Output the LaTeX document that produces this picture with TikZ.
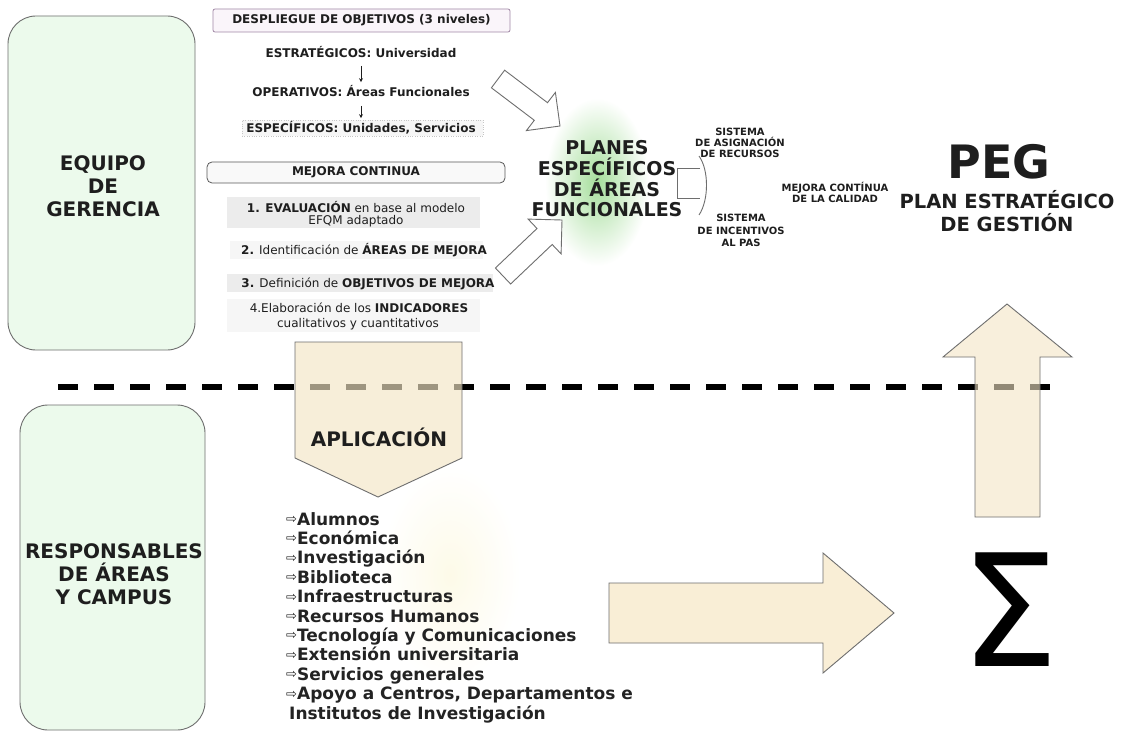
\documentclass[tikz,border=0pt]{standalone}
\usepackage{fontspec}
\setmainfont{DejaVu Sans}
\usetikzlibrary{arrows.meta}
\definecolor{gfill}{RGB}{236,250,236}
\definecolor{gline}{RGB}{110,110,110}
\definecolor{beige}{RGB}{244,229,198}
\definecolor{beigeR}{RGB}{249,238,214}
\definecolor{txt}{RGB}{30,30,30}
\definecolor{lav}{RGB}{250,245,250}
\definecolor{lavline}{RGB}{160,135,165}
\definecolor{glowgreen}{RGB}{165,222,155}
\definecolor{glowyel}{RGB}{253,250,232}
\definecolor{bgA}{RGB}{236,236,236}
\definecolor{bgB}{RGB}{246,246,246}
\newcommand\fsz[2]{\fontsize{#1}{#2}\selectfont}
\newcommand\itarr{{\mdseries\fontsize{13}{14}\selectfont\raisebox{1.5pt}{⇨}}}
\begin{document}
\begin{tikzpicture}[x=1pt,y=-1pt,
  every node/.style={text=txt, inner sep=0pt},
  greenbox/.style={draw=gline, fill=gfill, line width=0.9pt, rounded corners=28pt},
  blockarrow/.style={draw=gline, line width=0.9pt, line join=miter},
  bgbox/.style={draw=none},
  small/.style={font=\fsz{12}{13}},
  smallb/.style={font=\fsz{12}{13}\bfseries},
  tiny/.style={font=\fsz{10}{11}\bfseries, align=center},
  listitem/.style={anchor=base west, font=\fsz{17}{19.4}\bfseries, text={rgb,255:red,35;green,35;blue,35}},
  downarr/.style={-{Stealth[length=4pt,width=4pt]}, line width=0.8pt, draw=txt}]
\useasboundingbox (0,0) rectangle (1132,738);
\fill[white] (0,0) rectangle (1132,738);

% soft glows
\shade[inner color=glowgreen, outer color=white] (597,182) ellipse [x radius=52, y radius=84];
\shade[inner color=glowyel, outer color=white] (450,575) ellipse [x radius=70, y radius=110];

% left role boxes
\node[greenbox, minimum width=187pt, minimum height=334pt] (equipo) at (101.5,183) {};
\node[font=\fsz{20}{23}\bfseries, align=center] (equipoT) at (103,186) {EQUIPO\\DE\\GERENCIA};
\node[greenbox, minimum width=185pt, minimum height=325pt] (resp) at (112.5,567.5) {};
\node[font=\fsz{20}{23}\bfseries, align=center] (respT) at (114,574) {RESPONSABLES\\DE ÁREAS\\Y CAMPUS};

% dashed separator
\coordinate (dL) at (58,387);
\coordinate (dR) at (1063,387);
\draw[line width=6pt, dash pattern=on 20pt off 16pt] (dL) -- (dR);

% objectives column
\node[draw=lavline, fill=lav, rounded corners=2pt, line width=0.8pt,
      minimum width=297pt, minimum height=23pt, smallb] (desp) at (361.5,20.5) {DESPLIEGUE DE OBJETIVOS (3 niveles)};
\node[smallb, anchor=base] (estr) at (361,57.5) {ESTRATÉGICOS: Universidad};
\node[smallb, anchor=base] (oper) at (361,96.5) {OPERATIVOS: Áreas Funcionales};
\node[draw=gray!45, dotted, fill=bgB, minimum width=241pt, minimum height=16pt] (espbox) at (362.5,128) {};
\node[smallb, anchor=base] (esp) at (361,132.5) {ESPECÍFICOS: Unidades, Servicios};
\draw[downarr, shorten <=8pt, shorten >=3pt] (estr.south) -- (oper.north);
\draw[downarr, shorten <=9pt, shorten >=3pt] (oper.south) -- (esp.north);

% continuous improvement column
\node[draw=gray!70!black, fill=gray!5, rounded corners=5pt, line width=0.8pt,
      minimum width=298pt, minimum height=21pt, smallb] (mej) at (356,172.5) {MEJORA CONTINUA};
\node[bgbox, fill=bgA, minimum width=253pt, minimum height=31pt] (evalbox) at (353.5,212.5) {};
\node[small, anchor=base] (eval1) at (356,212.5) {\textbf{1. EVALUACIÓN} en base al modelo};
\node[small, anchor=base] (eval2) at (356,225) {EFQM adaptado};
\node[bgbox, fill=bgB, minimum width=253pt, minimum height=18pt] (identbox) at (356,250) {};
\node[small, anchor=base] (ident) at (364,254.5) {\textbf{2.} Identificación de \textbf{ÁREAS DE MEJORA}};
\node[bgbox, fill=bgA, minimum width=266pt, minimum height=18pt] (defbox) at (360,283) {};
\node[small, anchor=base] (def) at (368,287.5) {\textbf{3.} Definición de \textbf{OBJETIVOS DE MEJORA}};
\node[bgbox, fill=bgB, minimum width=253pt, minimum height=33pt] (elabbox) at (353.5,315.5) {};
\node[small, anchor=base] (elab1) at (359,312.5) {4.Elaboración de los \textbf{INDICADORES}};
\node[small, anchor=base] (elab2) at (358,327.5) {cualitativos y cuantitativos};

% white block arrows into the plans
\filldraw[blockarrow, fill=white] (504.6,70.2) -- (547.5,102.7) -- (555.4,92.4) -- (560,126)
  -- (526.4,130.6) -- (534.3,120.3) -- (491.4,87.8) -- cycle;
\filldraw[blockarrow, fill=white] (495.4,268.0) -- (537.0,228.5) -- (528.1,219.1) -- (562,220)
  -- (561.1,253.9) -- (552.2,244.5) -- (510.6,284.0) -- cycle;

% plans
\node[font=\fsz{19}{20.7}\bfseries, align=center] (planes) at (607,179) {PLANES\\ESPECÍFICOS\\DE ÁREAS\\FUNCIONALES};
\draw[gline, line width=0.9pt] (700,168) -- (677,168) -- (677,198) -- (700,198);
\draw[gline, line width=0.9pt] (699,156) .. controls (709,170) and (709,200) .. (699,215);
\node[tiny] (sar) at (740,143) {SISTEMA\\DE ASIGNACIÓN\\DE RECURSOS};
\node[tiny, font=\fsz{10}{12.5}\bfseries] (sip) at (741,230.5) {SISTEMA\\DE INCENTIVOS\\AL PAS};
\node[tiny] (mcal) at (835,192) {MEJORA CONTÍNUA\\DE LA CALIDAD};

% PEG
\node[font=\fsz{46}{50}\bfseries] (peg) at (999,162) {PEG};
\node[font=\fsz{19.5}{23}\bfseries, align=center] (plan) at (1007,211) {PLAN ESTRATÉGICO\\DE GESTIÓN};

% application arrow
\filldraw[blockarrow, fill=beige, fill opacity=0.65] (295,342) -- (462,342) -- (462,458) -- (378,497) -- (295,458) -- cycle;
\node[font=\fsz{20}{24}\bfseries] (aplic) at (379,437) {APLICACIÓN};

% up arrow
\filldraw[blockarrow, fill=beige, fill opacity=0.6] (975,517) -- (975,357) -- (943,357) -- (1007,304)
  -- (1072,357) -- (1040,357) -- (1040,517) -- cycle;

% right arrow
\filldraw[blockarrow, fill=beigeR] (609,583) -- (823,583) -- (823,553) -- (894,613)
  -- (823,673) -- (823,643) -- (609,643) -- cycle;

% sigma
\node[font=\fsz{156}{156}, text=black] (sigma) at (1010,610) {Σ};

% list of areas
\node[listitem] (li1) at (286,525) {\itarr Alumnos};
\node[listitem] (li2) at (286,544.4) {\itarr Económica};
\node[listitem] (li3) at (286,563.8) {\itarr Investigación};
\node[listitem] (li4) at (286,583.2) {\itarr Biblioteca};
\node[listitem] (li5) at (286,602.6) {\itarr Infraestructuras};
\node[listitem] (li6) at (286,622) {\itarr Recursos Humanos};
\node[listitem] (li7) at (286,641.4) {\itarr Tecnología y Comunicaciones};
\node[listitem] (li8) at (286,660.8) {\itarr Extensión universitaria};
\node[listitem] (li9) at (286,680.2) {\itarr Servicios generales};
\node[listitem] (li10) at (286,699.6) {\itarr Apoyo a Centros, Departamentos e};
\node[listitem] (li11) at (289,719) {Institutos de Investigación};
\end{tikzpicture}
\end{document}
